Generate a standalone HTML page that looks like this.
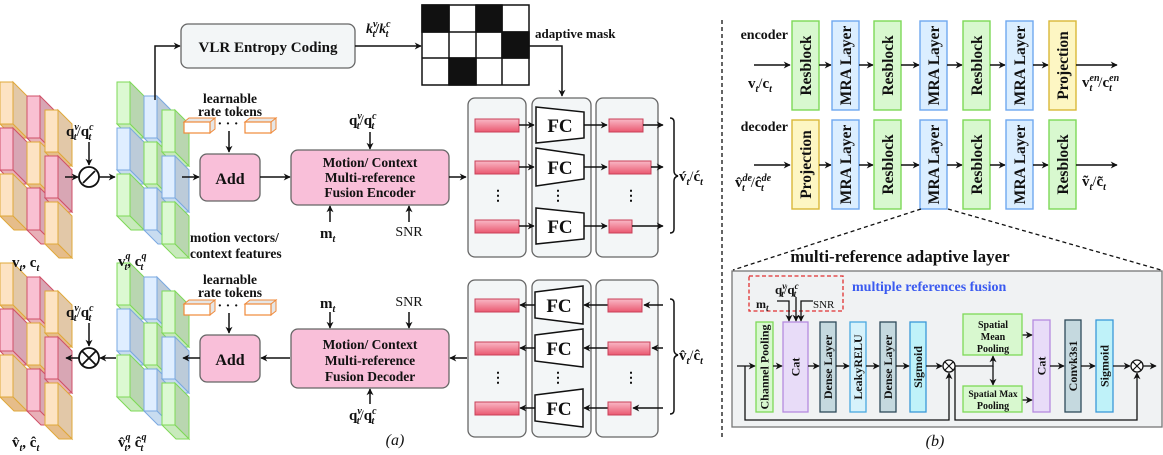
<!DOCTYPE html>
<html><head><meta charset="utf-8">
<style>
html,body{margin:0;padding:0;background:#fff;}
svg{display:block;}
text{font-family:"Liberation Serif",serif;font-weight:bold;fill:#111;}
.n{font-weight:normal;}
</style></head>
<body>
<svg id="s" width="1163" height="455" viewBox="0 0 1163 455" xmlns="http://www.w3.org/2000/svg">
<defs>
<marker id="a" viewBox="0 0 10 10" refX="9" refY="5" markerWidth="7" markerHeight="7" orient="auto-start-reverse" markerUnits="userSpaceOnUse"><path d="M0,0 L10,5 L0,10 L3,5 z" fill="#111"/></marker>
<linearGradient id="bar" x1="0" y1="0" x2="0" y2="1"><stop offset="0" stop-color="#f9b8c6"/><stop offset="1" stop-color="#ea5870"/></linearGradient>
</defs>
<g id="cubes"></g>

<!-- VLR -->
<path d="M155,100 V46 H180" fill="none" stroke="#111" stroke-width="1.5" marker-end="url(#a)"/>
<rect x="181" y="24" width="174" height="44" rx="7" fill="#f3f6f7" stroke="#666" stroke-width="1.3"/>
<text x="268" y="52" font-size="15" text-anchor="middle">VLR Entropy Coding</text>
<path d="M355,46 H421" stroke="#111" stroke-width="1.5" marker-end="url(#a)"/>
<text x="366" y="33" font-size="14" font-style="italic">k<tspan font-size="10" dy="-6">v</tspan><tspan font-size="10" dy="10" dx="-5">t</tspan><tspan dy="-4" font-style="normal">/</tspan>k<tspan font-size="10" dy="-6">c</tspan><tspan font-size="10" dy="10" dx="-5">t</tspan></text>
<!-- mask -->
<g stroke="#111" stroke-width="1.5">
<rect x="422" y="5" width="107" height="80" fill="#fff"/>
<rect x="422" y="5" width="27" height="27" fill="#111"/>
<rect x="476" y="5" width="26" height="27" fill="#111"/>
<rect x="502" y="32" width="27" height="26" fill="#111"/>
<rect x="449" y="58" width="27" height="27" fill="#111"/>
<path d="M449,5V85M476,5V85M502,5V85M422,32H529M422,58H529" fill="none"/>
</g>
<text x="535" y="38" font-size="13">adaptive mask</text>
<path d="M529,46 H562 V96" fill="none" stroke="#111" stroke-width="1.5" marker-end="url(#a)"/>

<!-- divide / multiply -->
<text x="66" y="136" font-size="15">q<tspan font-size="10" dy="-6" font-style="italic">v</tspan><tspan font-size="10" dy="10" dx="-5" font-style="italic">t</tspan><tspan dy="-4" class="n">/</tspan>q<tspan font-size="10" dy="-6" font-style="italic">c</tspan><tspan font-size="10" dy="10" dx="-5" font-style="italic">t</tspan></text>
<circle cx="89" cy="177" r="10" fill="#fff" stroke="#111" stroke-width="1.8"/>
<path d="M83,183 L95,171" stroke="#111" stroke-width="1.8"/>
<text x="66" y="317" font-size="15">q<tspan font-size="10" dy="-6" font-style="italic">v</tspan><tspan font-size="10" dy="10" dx="-5" font-style="italic">t</tspan><tspan dy="-4" class="n">/</tspan>q<tspan font-size="10" dy="-6" font-style="italic">c</tspan><tspan font-size="10" dy="10" dx="-5" font-style="italic">t</tspan></text>
<circle cx="89" cy="358" r="10" fill="#fff" stroke="#111" stroke-width="1.8"/>
<path d="M82,351 L96,365 M96,351 L82,365" stroke="#111" stroke-width="1.8"/>

<text x="12" y="267" font-size="15">v<tspan font-size="10" dy="4" font-style="italic">t</tspan><tspan dy="-4">, c</tspan><tspan font-size="10" dy="4" font-style="italic">t</tspan></text>
<text x="118" y="266" font-size="15">v<tspan font-size="10" dy="-7" font-style="italic">q</tspan><tspan font-size="10" dy="11" dx="-6" font-style="italic">t</tspan><tspan dy="-4">, c</tspan><tspan font-size="10" dy="-7" font-style="italic">q</tspan><tspan font-size="10" dy="11" dx="-6" font-style="italic">t</tspan></text>
<text x="12" y="447" font-size="15">v̂<tspan font-size="10" dy="4" font-style="italic">t</tspan><tspan dy="-4">, ĉ</tspan><tspan font-size="10" dy="4" font-style="italic">t</tspan></text>
<text x="118" y="447" font-size="15">v̂<tspan font-size="10" dy="-7" font-style="italic">q</tspan><tspan font-size="10" dy="11" dx="-6" font-style="italic">t</tspan><tspan dy="-4">, ĉ</tspan><tspan font-size="10" dy="-7" font-style="italic">q</tspan><tspan font-size="10" dy="11" dx="-6" font-style="italic">t</tspan></text>

<!-- tokens -->
<g id="tok"></g>
<text x="230" y="103" font-size="13.5" text-anchor="middle">learnable</text>
<text x="230" y="116" font-size="13.5" text-anchor="middle">rate tokens</text>
<text x="230" y="284" font-size="13.5" text-anchor="middle">learnable</text>
<text x="230" y="297" font-size="13.5" text-anchor="middle">rate tokens</text>
<text x="228" y="128" font-size="14" text-anchor="middle">· · ·</text>
<text x="228" y="310" font-size="14" text-anchor="middle">· · ·</text>

<!-- Add boxes -->
<rect x="200" y="154" width="60" height="47" rx="7" fill="#f9bfd9" stroke="#666" stroke-width="1.3"/>
<text x="230" y="184" font-size="16" text-anchor="middle">Add</text>
<rect x="200" y="335" width="60" height="47" rx="7" fill="#f9bfd9" stroke="#666" stroke-width="1.3"/>
<text x="230" y="365" font-size="16" text-anchor="middle">Add</text>

<!-- Encoder/Decoder -->
<rect x="291" y="150" width="158" height="55" rx="7" fill="#f9bfd9" stroke="#666" stroke-width="1.3"/>
<text x="370" y="167" font-size="13.5" text-anchor="middle">Motion/ Context</text>
<text x="370" y="182" font-size="13.5" text-anchor="middle">Multi-reference</text>
<text x="370" y="197" font-size="13.5" text-anchor="middle">Fusion Encoder</text>
<rect x="291" y="329" width="158" height="59" rx="7" fill="#f9bfd9" stroke="#666" stroke-width="1.3"/>
<text x="370" y="349" font-size="13.5" text-anchor="middle">Motion/ Context</text>
<text x="370" y="365" font-size="13.5" text-anchor="middle">Multi-reference</text>
<text x="370" y="381" font-size="13.5" text-anchor="middle">Fusion Decoder</text>
<text x="349" y="125" font-size="15">q<tspan font-size="10" dy="-6" font-style="italic">v</tspan><tspan font-size="10" dy="10" dx="-5" font-style="italic">t</tspan><tspan dy="-4" class="n">/</tspan>q<tspan font-size="10" dy="-6" font-style="italic">c</tspan><tspan font-size="10" dy="10" dx="-5" font-style="italic">t</tspan></text>
<text x="320" y="238" font-size="15">m<tspan font-size="10" dy="4" font-style="italic">t</tspan></text>
<text x="409" y="236" font-size="14" class="n" text-anchor="middle">SNR</text>
<text x="190" y="242" font-size="13.5">motion vectors/</text>
<text x="190" y="258" font-size="13.5">context features</text>
<text x="320" y="308" font-size="15">m<tspan font-size="10" dy="4" font-style="italic">t</tspan></text>
<text x="409" y="306" font-size="14" class="n" text-anchor="middle">SNR</text>
<text x="349" y="420" font-size="15">q<tspan font-size="10" dy="-6" font-style="italic">v</tspan><tspan font-size="10" dy="10" dx="-5" font-style="italic">t</tspan><tspan dy="-4" class="n">/</tspan>q<tspan font-size="10" dy="-6" font-style="italic">c</tspan><tspan font-size="10" dy="10" dx="-5" font-style="italic">t</tspan></text>
<text x="395" y="445" font-size="16" class="n" font-style="italic" text-anchor="middle">(a)</text>

<!-- FC panels -->
<g fill="#f3f6f7" stroke="#666" stroke-width="1.3">
<rect x="468" y="98" width="58" height="159" rx="7"/><rect x="532" y="98" width="59" height="159" rx="7"/><rect x="596" y="98" width="62" height="159" rx="7"/>
<rect x="468" y="280" width="58" height="157" rx="7"/><rect x="532" y="280" width="59" height="157" rx="7"/><rect x="596" y="280" width="62" height="157" rx="7"/>
</g>
<g id="fc"></g>
<g font-size="14" text-anchor="middle">
<text x="498" y="200">⋮</text><text x="558" y="200">⋮</text><text x="631" y="200">⋮</text>
<text x="498" y="382">⋮</text><text x="558" y="382">⋮</text><text x="631" y="382">⋮</text>
</g>
<path d="M670,118 q4,0 4,4 V171 q0,4 4,5 q-4,1 -4,5 V229 q0,4 -4,4" fill="none" stroke="#111" stroke-width="1.5"/>
<path d="M670,299 q4,0 4,4 V350 q0,4 4,5 q-4,1 -4,5 V410 q0,4 -4,4" fill="none" stroke="#111" stroke-width="1.5"/>
<text x="679" y="181" font-size="15">v́<tspan font-size="10" dy="4" font-style="italic">t</tspan><tspan dy="-4" class="n">/</tspan>ć<tspan font-size="10" dy="4" font-style="italic">t</tspan></text>
<text x="679" y="360" font-size="15">v̂<tspan font-size="10" dy="4" font-style="italic">t</tspan><tspan dy="-4" class="n">/</tspan>ĉ<tspan font-size="10" dy="4" font-style="italic">t</tspan></text>

<path d="M722,20 V440" stroke="#111" stroke-width="1.3" stroke-dasharray="4,3"/>

<!-- encoder/decoder right -->
<text x="788" y="39" font-size="14" text-anchor="end">encoder</text>
<text x="788" y="131" font-size="14" text-anchor="end">decoder</text>
<g id="ed"></g>
<text x="748" y="88" font-size="15">v<tspan font-size="10" dy="4" font-style="italic">t</tspan><tspan dy="-4" class="n">/</tspan>c<tspan font-size="10" dy="4" font-style="italic">t</tspan></text>
<text x="1082" y="87" font-size="15">v<tspan font-size="10" dy="-6" font-style="italic">en</tspan><tspan font-size="10" dy="10" dx="-10" font-style="italic">t</tspan><tspan dy="-4" dx="6" class="n">/</tspan>c<tspan font-size="10" dy="-6" font-style="italic">en</tspan><tspan font-size="10" dy="10" dx="-10" font-style="italic">t</tspan></text>
<text x="735" y="187" font-size="15">v̂<tspan font-size="10" dy="-6" font-style="italic">de</tspan><tspan font-size="10" dy="10" dx="-10" font-style="italic">t</tspan><tspan dy="-4" dx="6" class="n">/</tspan>ĉ<tspan font-size="10" dy="-6" font-style="italic">de</tspan><tspan font-size="10" dy="10" dx="-10" font-style="italic">t</tspan></text>
<text x="1082" y="186" font-size="15">ṽ<tspan font-size="10" dy="4" font-style="italic">t</tspan><tspan dy="-4" class="n">/</tspan>c̃<tspan font-size="10" dy="4" font-style="italic">t</tspan></text>
<path d="M921,209 L733,270 M948,209 L1161,270" stroke="#111" stroke-width="1.3" stroke-dasharray="4,3"/>

<!-- MRA detail -->
<text x="900" y="262" font-size="17" text-anchor="middle">multi-reference adaptive layer</text>
<rect x="732" y="271" width="430" height="156" fill="#f0f2f3" stroke="#777" stroke-width="1.3"/>
<rect x="749" y="276" width="94" height="35" fill="none" stroke="#e03030" stroke-width="1.3" stroke-dasharray="4,2.5"/>
<text x="852" y="291" font-size="14" style="fill:#3a5af0">multiple references fusion</text>
<text x="775" y="294" font-size="13">q<tspan font-size="9" dy="-5" font-style="italic">v</tspan><tspan font-size="9" dy="8" dx="-5" font-style="italic">t</tspan><tspan dy="-3" class="n">/</tspan>q<tspan font-size="9" dy="-5" font-style="italic">c</tspan><tspan font-size="9" dy="8" dx="-5" font-style="italic">t</tspan></text>
<text x="756" y="308" font-size="12">m<tspan font-size="9" dy="3" font-style="italic">t</tspan></text>
<text x="813" y="308" font-size="11" class="n">SNR</text>
<g id="mb"></g>
<g id="arr"></g>
<circle cx="949" cy="366" r="6" fill="#fff" stroke="#111" stroke-width="1.3"/><path d="M945,362 L953,370 M953,362 L945,370" stroke="#111" stroke-width="1.2"/>
<circle cx="1137" cy="366" r="6" fill="#fff" stroke="#111" stroke-width="1.3"/><path d="M1133,362 L1141,370 M1141,362 L1133,370" stroke="#111" stroke-width="1.2"/>
<rect x="963" y="314" width="59" height="41" fill="#d8f8cf" stroke="#7ed957" stroke-width="1.3"/>
<text x="993" y="328" font-size="10" text-anchor="middle">Spatial</text>
<text x="993" y="340" font-size="10" text-anchor="middle">Mean</text>
<text x="993" y="352" font-size="10" text-anchor="middle">Pooling</text>
<rect x="963" y="386" width="59" height="26" fill="#d8f8cf" stroke="#7ed957" stroke-width="1.3"/>
<text x="993" y="397" font-size="9.5" text-anchor="middle">Spatial Max</text>
<text x="993" y="409" font-size="10" text-anchor="middle">Pooling</text>
<text x="935" y="446" font-size="16" class="n" font-style="italic" text-anchor="middle">(b)</text>
</svg>
<script>
(function(){
var NS="http://www.w3.org/2000/svg";
function el(p,t,a,txt){var e=document.createElementNS(NS,t);for(var k in a)e.setAttribute(k,a[k]);if(txt)e.textContent=txt;p.appendChild(e);return e;}
var A=document.getElementById('arr');
function ar(d,w){el(A,'path',{d:d,fill:'none',stroke:'#111','stroke-width':w||1.5,'marker-end':'url(#a)'});}
['M89,142 V165','M65,177 H78','M99,177 H115','M89,323 V346','M116,358 H100','M79,358 H66',
 'M229,131 V152','M229,313 V333','M182,177 H199','M260,177 H290','M449,177 H466',
 'M290,358 H261','M200,358 H183','M467,358 H450','M370,132 V149','M330,222 V206','M409,222 V206',
 'M330,312 V328','M409,312 V328','M370,404 V389'].forEach(function(d){ar(d);});
['M777,301 H789 V321','M796,297 V321','M813,301 H801 V321','M737,366 H755','M745,366 V420 H949 V373',
 'M773,366 H782','M808,366 H819','M836,366 H849','M866,366 H879','M896,366 H909','M926,366 H942',
 'M955,366 H993 V356','M993,366 V385','M955,366 V420 H1137 V373','M1022,335 H1032','M1022,400 H1032',
 'M1050,366 H1064','M1081,366 H1095','M1113,366 H1130','M1143,366 H1156'].forEach(function(d){ar(d,1.3);});
var C={o:['#fde3c3','#e2c8a8','#e6bd8a','#e0a83a'],p:['#f9c0d2','#d8a6b4','#e8b0b8','#d05068'],g:['#dcf9d2','#b9d6b0','#c8eabc','#7ed957'],b:['#dfeeff','#bccbd9','#c8dcf0','#7aa8e0']};
function cubes(x0,y0,pat){var g=document.getElementById('cubes');var dx=[0,27,45],dy=[0,14,28];
for(var c=0;c<3;c++)for(var r=0;r<3;r++){var col=C[pat[c][r]];var x=x0+dx[c],y=y0+dy[c]+r*46;
el(g,'path',{d:'M'+(x+13)+','+y+' L'+(x+27)+','+(y+14)+' V'+(y+56)+' L'+(x+13)+','+(y+42)+'Z',fill:col[1],stroke:col[3],'stroke-width':1});
el(g,'path',{d:'M'+x+','+(y+42)+' H'+(x+13)+' L'+(x+27)+','+(y+56)+' H'+(x+14)+'Z',fill:col[2],stroke:col[3],'stroke-width':1});
el(g,'rect',{x:x,y:y,width:13,height:42,fill:col[0],stroke:col[3],'stroke-width':1});}}
var P1=[['o','p','o'],['p','o','p'],['o','p','o']],P2=[['g','b','g'],['b','g','b'],['g','b','g']];
cubes(0,82,P1);cubes(117,82,P2);cubes(0,263,P1);cubes(117,263,P2);
var T=document.getElementById('tok');
[[184,122],[245,122],[184,304],[245,304]].forEach(function(p){var x=p[0],y=p[1];
el(T,'path',{d:'M'+x+','+y+' l5,-4 h26 l-5,4z M'+(x+26)+','+y+' l5,-4 v11 l-5,4z',fill:'#e6e6e6',stroke:'#f08a3a','stroke-width':1});
el(T,'rect',{x:x,y:y,width:26,height:11,fill:'#fff',stroke:'#f08a3a','stroke-width':1.2});});
var F=document.getElementById('fc');
function line(x1,y1,x2,y2){el(F,'path',{d:'M'+x1+','+y1+' L'+x2+','+y2,stroke:'#111','stroke-width':1.5,'marker-end':'url(#a)'});}
function bar(x,y,w){el(F,'rect',{x:x,y:y,width:w,height:13,fill:'url(#bar)',stroke:'#c84058','stroke-width':1});}
var rowsT=[[125,34],[167,42],[226,23]];
rowsT.forEach(function(r,i){var y=r[0];bar(475,y-6,44);line(519,y,534,y);
var x=536;var hl=i==1?30:36,hr=i==1?24:26;
el(F,'path',{d:'M'+x+','+(y-hl/2-(i==1?4:0))+' L'+(x+48)+','+(y-hr/2)+' L'+(x+48)+','+(y+hr/2)+' L'+x+','+(y+hl/2+(i==1?4:0))+'Z',fill:'#fff',stroke:'#111','stroke-width':1.5});
el(F,'text',{x:x+24,y:y+7,'font-size':19,'text-anchor':'middle'},'FC');
line(584,y,607,y);bar(609,y-6,r[1]);line(609+r[1],y,663,y);});
var rowsB=[[305,34],[348,42],[408,23]];
rowsB.forEach(function(r,i){var y=r[0];bar(475,y-6,44);var x=535;var hl=26,hr=34;
el(F,'path',{d:'M'+x+','+(y-hl/2)+' L'+(x+48)+','+(y-hr/2-2)+' L'+(x+48)+','+(y+hr/2+2)+' L'+x+','+(y+hl/2)+'Z',fill:'#fff',stroke:'#111','stroke-width':1.5});
el(F,'text',{x:x+24,y:y+7,'font-size':19,'text-anchor':'middle'},'FC');
line(535,y,520,y);line(608,y,584,y);bar(608,y-6,r[1]);line(663,y,609+r[1]+1,y);});
var ed=document.getElementById('ed');
var st={R:['#d8f8cf','#7ed957','Resblock'],M:['#dbeeff','#6fa8f0','MRA Layer'],P:['#fdf6c3','#d9b838','Projection']};
var xs=[792,832,874,920,963,1006,1049];
function row(seq,y0,ay){
el(ed,'path',{d:'M754,'+ay+' H790',stroke:'#111','stroke-width':1.5,'marker-end':'url(#a)'});
seq.forEach(function(k,i){var s=st[k],x=xs[i];el(ed,'rect',{x:x,y:y0,width:27,height:89,fill:s[0],stroke:s[1],'stroke-width':1.4});
el(ed,'text',{x:0,y:0,'font-size':15.5,'text-anchor':'middle',transform:'translate('+(x+19)+','+(y0+44.5)+') rotate(-90)'},s[2]);
var nx=i<6?xs[i+1]:1118;el(ed,'path',{d:'M'+(x+27)+','+ay+' H'+(nx-1),stroke:'#111','stroke-width':1.5,'marker-end':'url(#a)'});});}
row(['R','M','R','M','R','M','P'],21,65);row(['P','M','R','M','R','M','R'],120,165);
var M=document.getElementById('mb');
[[756,17,'#d8f8cf','#7ed957','Channel Pooling',322],[783,25,'#e8dcf8','#b58be0','Cat',322],[820,16,'#c5d9df','#2e4a5a','Dense Layer',322],[850,16,'#d6f2fb','#4aa8e0','LeakyRELU',322],[880,16,'#c5d9df','#2e4a5a','Dense Layer',322],[910,16,'#bff2f9','#3a98d8','Sigmoid',322],[1033,17,'#e8dcf8','#b58be0','Cat',320],[1065,16,'#c5d9df','#2e4a5a','Convk3s1',320],[1096,17,'#bff2f9','#3a98d8','Sigmoid',320]].forEach(function(b){
var y0=b[5],h=412-y0;el(M,'rect',{x:b[0],y:y0,width:b[1],height:h,fill:b[2],stroke:b[3],'stroke-width':1.3});
el(M,'text',{x:0,y:0,'font-size':12,'text-anchor':'middle',transform:'translate('+(b[0]+b[1]/2+4)+','+(y0+h/2)+') rotate(-90)'},b[4]);});
})();
</script>
</body></html>
